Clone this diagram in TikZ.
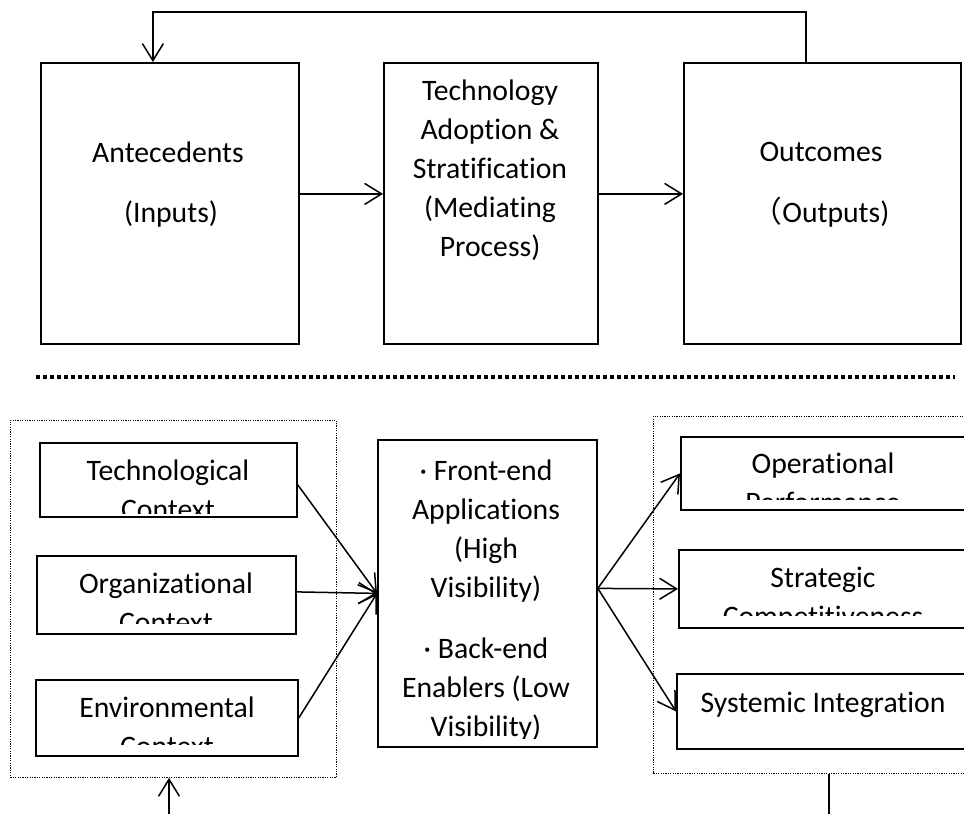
\documentclass[tikz,border=0pt]{standalone}
\usepackage{fontspec}
\setmainfont{Carlito}[Ligatures=NoCommon]
\newfontfamily\cjk{Noto Sans CJK SC}
\usetikzlibrary{arrows.meta}
\begin{document}
\begin{tikzpicture}[x=1pt,y=-1pt,
  box/.style={draw,line width=1.8pt,inner sep=0pt,anchor=north west},
  grp/.style={draw,line width=0.9pt,dash pattern=on 1.2pt off 1.2pt,inner sep=0pt,anchor=north west},
  txt/.style={inner sep=0pt,anchor=base,align=center,font=\fontsize{29.7}{39}\selectfont},
  arr/.style={line width=1.5pt,-{Straight Barb[length=17pt,width=21pt,line width=1.5pt]}},
  ln/.style={line width=1.5pt}]
\clip (0,0) rectangle (964,814);
\fill[white] (0,0) rectangle (964,814);
% top row
\node[box,minimum width=258pt,minimum height=281pt] (ante) at (40,62) {};
\node[box,minimum width=214pt,minimum height=281pt] (tech) at (383,62) {};
\node[box,minimum width=277pt,minimum height=281pt] (outc) at (683,62) {};
\node[txt] (anteA) at (168,162) {Antecedents};
\node[txt] (anteB) at (171,222) {(Inputs)};
\node[txt] (techT) at (490,256) {Technology\\Adoption \&\\Stratification\\(Mediating\\Process)};
\node[txt] (outcA) at (821,161) {Outcomes};
\node[txt] (outcB) at (821,222) {{\cjk （}Outputs)};
\draw[arr] ([yshift=9.5pt]ante.east) -- ([yshift=9.5pt]tech.west);
\draw[arr] ([yshift=9.5pt]tech.east) -- ([yshift=9.5pt]outc.west);
\draw[arr] ([xshift=-16.5pt]outc.north) -- ++(0,-50) -| ([xshift=-17pt]ante.north);
% separator
\draw[line width=4pt,dash pattern=on 4pt off 3pt] (36,377) -- (955,377);
% bottom groups
\node[grp,minimum width=326pt,minimum height=357pt] (lgrp) at (10,420) {};
\node[grp,minimum width=400pt,minimum height=357pt] (rgrp) at (653,416) {};
\node[box,minimum width=257pt,minimum height=74pt] (techc) at (39,442) {};
\node[box,minimum width=259pt,minimum height=78pt] (orgc) at (36,555) {};
\node[box,minimum width=262pt,minimum height=76pt] (envc) at (35,679) {};
\node[box,minimum width=219pt,minimum height=307pt] (mid) at (377,439) {};
\node[box,minimum width=320pt,minimum height=73pt] (oper) at (680,436) {};
\node[box,minimum width=320pt,minimum height=78pt] (strat) at (678,549) {};
\node[box,minimum width=320pt,minimum height=75pt] (syst) at (676,673) {};
\begin{scope}
\clip (39,442) rectangle (296,513);
\node[txt] (techcT) at (168,519) {Technological\\Context};
\end{scope}
\begin{scope}
\clip (36,555) rectangle (295,623);
\node[txt] (orgcT) at (166,632) {Organizational\\Context};
\end{scope}
\begin{scope}
\clip (35,679) rectangle (297,744);
\node[txt] (envcT) at (167,756) {Environmental\\Context};
\end{scope}
\begin{scope}
\clip (680,436) rectangle (1000,499);
\node[txt] (operT) at (823,512) {Operational\\Performance};
\end{scope}
\begin{scope}
\clip (678,549) rectangle (1000,615);
\node[txt] (stratT) at (823,626) {Strategic\\Competitiveness};
\end{scope}
\node[txt] (systT) at (823,712) {Systemic Integration};
\begin{scope}
\clip (377,439) rectangle (596,738);
\node[txt] (midT) at (486,736) {· Front-end\\Applications\\(High\\Visibility)\\[22pt]· Back-end\\Enablers (Low\\Visibility)};
\end{scope}
% connectors
\draw[arr] ([yshift=-5pt]techc.east) -- (mid.west);
\draw[arr] ([yshift=3pt]orgc.east) -- (mid.west);
\draw[arr] (envc.east) -- (mid.west);
\draw[arr] ([yshift=5pt]mid.east) -- (oper.west);
\draw[arr] ([yshift=5pt]mid.east) -- (strat.west);
\draw[arr] ([yshift=5pt]mid.east) -- (syst.west);
\coordinate (b1) at (169,814);
\coordinate (b2) at (829,814);
\draw[arr] (b1) -- (b1 |- lgrp.south);
\draw[ln] (rgrp.south -| b2) -- (b2);
\end{tikzpicture}
\end{document}
